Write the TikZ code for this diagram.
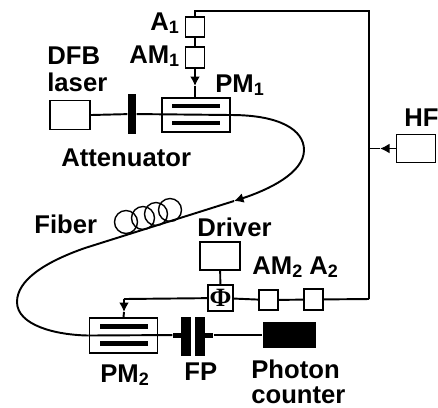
\documentclass[tikz,border=0pt]{standalone}
\usepackage{fontspec}
\setmainfont{Liberation Sans}
\newfontfamily\phifont{Liberation Serif}
\usepackage{tikz}
\usetikzlibrary{positioning,arrows.meta,calc}
\tikzset{
  lbl/.style={anchor=base west, inner sep=0pt, font=\fontsize{14.6}{16}\selectfont\bfseries},
  box/.style={draw, line width=1.1pt, inner sep=0pt, fill=white},
  smallbox/.style={box, minimum width=0.38cm, minimum height=0.41cm},
  modbox/.style={box, minimum width=1.36cm, minimum height=0.67cm},
  wavebar/.style={fill=black, inner sep=0pt, minimum width=0.96cm, minimum height=0.09cm},
  solidbar/.style={fill=black, inner sep=0pt, minimum width=0.17cm, minimum height=0.79cm},
  stub/.style={fill=black, inner sep=0pt, minimum width=0.17cm, minimum height=0.1cm},
  coil/.style={draw, circle, line width=0.8pt, inner sep=0pt, minimum size=0.46cm},
  wire/.style={line width=1.1pt},
  tip/.style={-{Latex[length=0.19cm,width=0.2cm]}},
}
\begin{document}
\begin{tikzpicture}[x=0.02cm, y=-0.02cm]
  \useasboundingbox (0,0) rectangle (438,407);

  \node[box, minimum width=0.8cm, minimum height=0.58cm] (DFB) at (70,115) {};
  \node[solidbar] (Att) at (132,114) {};
  \node[modbox] (PMa) at (196,115) {};
  \node[wavebar] (PMaup) at (196,106) {};
  \node[wavebar] (PMadown) at (196,123) {};
  \draw[wire] (DFB.east) -- (Att) -- (PMa.east);

  \node[smallbox] (Aa) at (195,27) {};
  \node[smallbox] (AMa) at (195,57.5) {};
  \coordinate (tipa) at (195,86);
  \draw[wire] (Aa) -- (AMa);
  \draw[wire, tip] (AMa) -- (tipa);
  \draw[wire] (tipa) -- (PMa.north -| tipa);

  \node[box, minimum width=0.78cm, minimum height=0.56cm] (HF) at (416,148.5) {};
  \coordinate (topright) at (369,11);
  \coordinate (topleft) at (195,11);
  \coordinate (botright) at (369,299);
  \coordinate (hfjoin) at (369,148.5);
  \coordinate (tiphf) at (380,148.5);
  \draw[wire] (Aa) -- (topleft) -- (topright) -- (botright);
  \draw[wire, tip] (HF) -- (tiphf);
  \draw[wire] (tiphf) -- (hfjoin);

  \node[box, minimum width=0.8cm, minimum height=0.56cm] (Driver) at (220,256) {};
  \node[box, minimum width=0.5cm, minimum height=0.52cm] (Phi) at (220.5,298) {\fontsize{15}{15}\phifont\bfseries Φ};
  \node[smallbox] (AMb) at (268.5,300) {};
  \node[smallbox] (Ab) at (313.5,299.5) {};
  \draw[wire] (Driver) -- (Phi);
  \draw[wire] (Phi) -- (AMb);
  \draw[wire] (AMb) -- (Ab);
  \draw[wire] (Ab) -- (botright);

  \node[modbox, minimum height=0.7cm] (PMb) at (123.5,335.5) {};
  \node[wavebar] (PMbup) at (124,326.5) {};
  \node[wavebar] (PMbdown) at (124,343.5) {};
  \node[solidbar, minimum width=0.2cm] (FPa) at (186,336.5) {};
  \node[solidbar, minimum width=0.2cm] (FPb) at (200,336.5) {};
  \node[stub] (stuba) at (177,335) {};
  \node[stub] (stubb) at (209,335) {};
  \node[fill=black, inner sep=0pt, minimum width=1.06cm, minimum height=0.52cm] (Counter) at (289,335) {};
  \draw[wire] (PMb.west) -- (stuba);
  \draw[line width=0.6pt] (stubb) -- (Counter);

  \coordinate (cornerb) at (124,299);
  \coordinate (tipb) at (124,312);
  \draw[wire] (Phi) -- (cornerb);
  \draw[wire, tip] (cornerb) -- (tipb);
  \draw[wire] (tipb) -- (PMb.north);

  \coordinate (tipc) at (234,201);
  \draw[wire, tip] (PMa.east) .. controls (280,115) and (304,130) .. (304,150)
    .. controls (304,173) and (268,190) .. (tipc);
  \draw[wire] (tipc) -- (85,248) .. controls (45,262) and (17,280) .. (17,302)
    .. controls (17,325) and (55,335) .. (PMb.west);

  \foreach \i/\x/\y in {1/126/222, 2/143/218, 3/156/214, 4/170/210}
    \node[coil] (coil\i) at (\x,\y) {};

  \node[lbl] (lblDFB) at (47,64) {DFB};
  \node[lbl] (lblLaser) at (47,91) {laser};
  \node[lbl] (lblAa) at (150,30) {A\textsubscript{1}};
  \node[lbl] (lblAMa) at (129,63) {AM\textsubscript{1}};
  \node[lbl] (lblPMa) at (215,92) {PM\textsubscript{1}};
  \node[lbl] (lblAtt) at (61,166) {Attenuator};
  \node[lbl] (lblHF) at (404,126) {HF};
  \node[lbl] (lblFiber) at (34,233) {Fiber};
  \node[lbl] (lblDriver) at (197,236) {Driver};
  \node[lbl] (lblAMb) at (252,274) {AM\textsubscript{2}};
  \node[lbl] (lblAb) at (309,274) {A\textsubscript{2}};
  \node[lbl] (lblPMb) at (100,382) {PM\textsubscript{2}};
  \node[lbl] (lblFP) at (184,380) {FP};
  \node[lbl] (lblPhoton) at (251,378) {Photon};
  \node[lbl] (lblCounter) at (251,403) {counter};
\end{tikzpicture}
\end{document}
